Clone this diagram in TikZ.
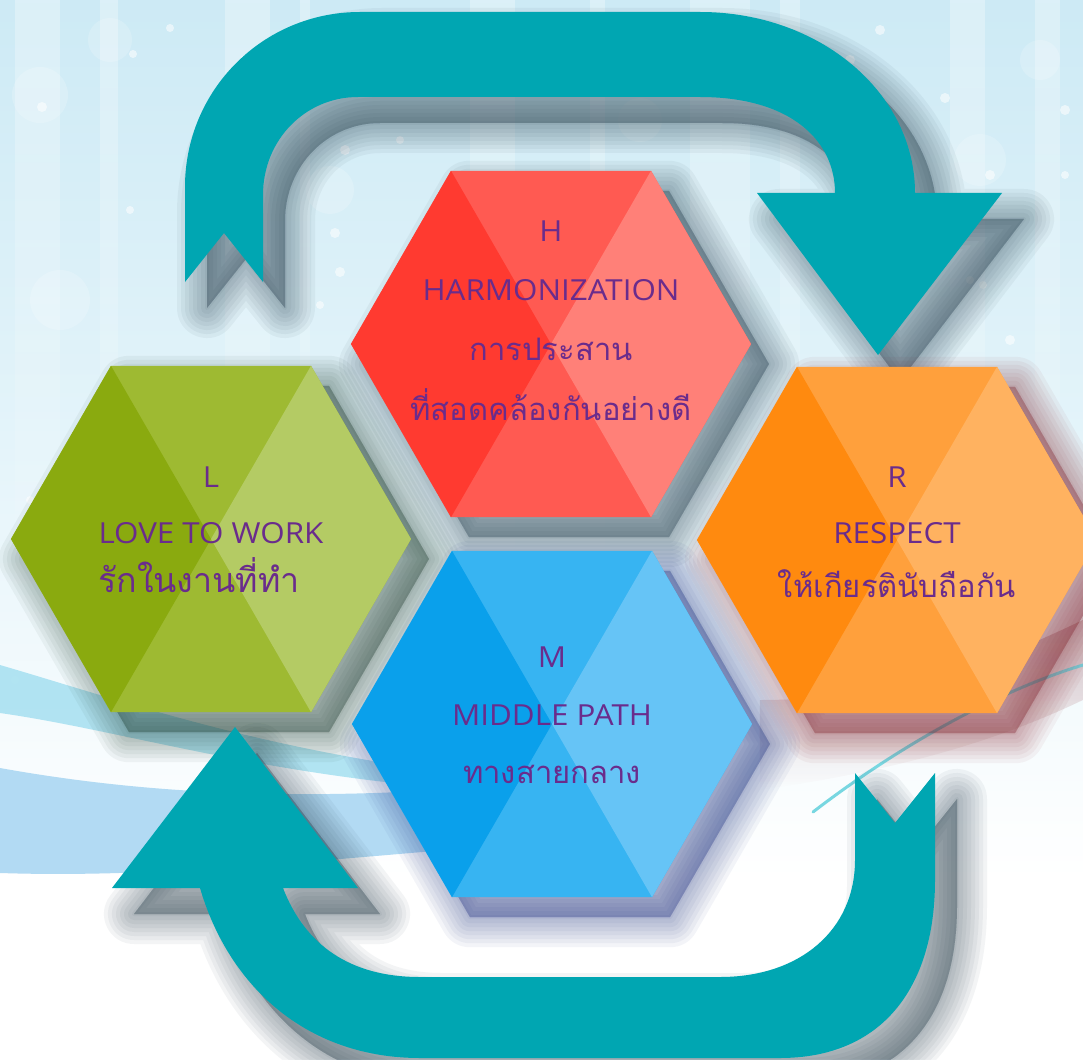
\documentclass[tikz,border=0pt]{standalone}
\usepackage{fontspec}
\setmainfont[FakeStretch=1.08]{Open Sans}
\newfontfamily\thaifont[Script=Thai]{Loma}
\usetikzlibrary{fadings}
\definecolor{bgtop}{RGB}{205,234,245}
\definecolor{bgmid}{RGB}{228,244,250}
\definecolor{teal}{RGB}{0,166,178}
\definecolor{txtc}{RGB}{106,44,140}
\definecolor{hL}{RGB}{255,58,48}\definecolor{hM}{RGB}{255,90,82}\definecolor{hR}{RGB}{255,128,120}
\definecolor{lL}{RGB}{138,170,15}\definecolor{lM}{RGB}{158,186,50}\definecolor{lR}{RGB}{180,203,100}
\definecolor{rL}{RGB}{255,138,15}\definecolor{rM}{RGB}{255,160,60}\definecolor{rR}{RGB}{255,178,96}
\definecolor{mL}{RGB}{10,160,235}\definecolor{mM}{RGB}{55,180,242}\definecolor{mR}{RGB}{102,196,246}
\definecolor{shA}{RGB}{30,55,70}
\definecolor{shL}{RGB}{25,55,40}
\definecolor{shR}{RGB}{130,30,40}
\definecolor{shM}{RGB}{30,50,130}
\definecolor{swblue}{RGB}{178,218,243}
\definecolor{swcyan}{RGB}{160,222,240}
\definecolor{swline}{RGB}{120,215,225}
\tikzset{
  hexpath/.style={insert path={(-200,0) -- (-100,-173.2) -- (100,-173.2) -- (200,0) -- (100,173.2) -- (-100,173.2) -- cycle}},
  toparrow/.style={insert path={(185,282) -- (185,187) .. controls (185,90) and (263,12) .. (360,12) -- (700,12) .. controls (820,12) and (915,93) .. (915,193) -- (1002,193) -- (878,355) -- (757,193) -- (835,193) .. controls (835,140) and (790,97) .. (700,97) -- (358,97) .. controls (305,97) and (263,140) .. (263,195) -- (263,282) -- (224,233) -- cycle}},
  botarrow/.style={insert path={(855,773) -- (895,823) -- (935,773) -- (935,880) .. controls (935,990) and (880,1058) .. (780,1058) -- (420,1058) .. controls (310,1058) and (230,990) .. (200,888) -- (112,888) -- (235,727) -- (358,888) -- (283,888) .. controls (305,945) and (350,977) .. (420,977) -- (720,977) .. controls (800,977) and (855,930) .. (855,860) -- cycle}},
  lat/.style={text=txtc, font=\fontsize{29}{32}\selectfont, anchor=base, inner sep=0pt},
  tha/.style={text=txtc, font=\thaifont\fontsize{31}{34}\selectfont, anchor=base, inner sep=0pt},
  stripe/.style={white, opacity=0.3, path fading=south},
  bokeh/.style={white, opacity=0.55},
  bigbokeh/.style={white, opacity=0.18},
  softsh/.style={fill=#1, draw=#1, line join=round, opacity=0.05},
}
\newcommand\hexshadow[3]{%
  \begin{scope}[shift={({#1+18},{#2+20})}]
    \foreach \w in {60,52,44,36,28,20,12,4}{%
      \path[softsh=#3, line width=\w pt, hexpath];}
  \end{scope}}
\newcommand\hexbox[6]{%
  \begin{scope}[shift={(#2,#3)}]
    \coordinate (#1) at (0,0);
    \fill[#5, hexpath];
    \fill[#4] (-200,0) -- (-100,-173.2) -- (0,0) -- (-100,173.2) -- cycle;
    \fill[#6] (100,-173.2) -- (200,0) -- (100,173.2) -- (0,0) -- cycle;
  \end{scope}}
\begin{document}
\begin{tikzpicture}[x=1pt,y=-1pt]
\useasboundingbox (0,0) rectangle (1083,1059);
% background
\fill[white] (0,0) rectangle (1083,1059);
\shade[top color=bgtop, bottom color=white, middle color=bgmid] (0,0) rectangle (1083,880);
\foreach \a/\b in {15/60,100/118,225/270,300/310,470/515,590/605,690/750,780/800,950/985,1035/1060}{
  \fill[stripe] (\a,0) rectangle (\b,720);}
% bokeh
\foreach \x/\y/\r in {40/95/28,110/40/22,60/300/30,170/430/26,330/190/24,520/60/30,640/120/22,980/160/26,1040/60/20,300/560/22,110/640/20,1000/420/24}{
  \fill[bigbokeh] (\x,\y) circle (\r);}
\foreach \x/\y/\r in {170/28/4,133/54/4,245/60/5,42/107/5,130/210/4,345/150/5,335/233/5,340/272/5,320/305/4,850/60/5,880/30/5,945/98/5,990/175/5,983/285/4,1065/110/5,1065/175/4,1010/340/5,970/280/4,660/40/4,700/75/4,30/500/4,70/570/5,15/680/4,400/140/4,400/325/5}{
  \fill[bokeh] (\x,\y) circle (\r);}
% swooshes
\fill[swcyan, opacity=0.8] (0,665) .. controls (120,700) and (260,750) .. (470,775) -- (470,790) .. controls (260,775) and (120,730) .. (0,713) -- cycle;
\fill[swblue] (0,768) .. controls (150,795) and (300,800) .. (470,788) -- (470,848) .. controls (300,862) and (150,878) .. (0,873) -- cycle;
\fill[shR, opacity=0.25, path fading=south] (760,700) .. controls (900,700) and (1000,660) .. (1083,620) -- (1083,700) .. controls (1000,740) and (900,770) .. (760,790) -- cycle;
\draw[swline, line width=3pt, line cap=round] (813,812) .. controls (900,745) and (1000,690) .. (1083,665);
% shadows
\begin{scope}[shift={(22,26)}]
  \foreach \w in {60,52,44,36,28,20,12,4}{%
    \path[softsh=shA, line width=\w pt, toparrow];
    \path[softsh=shA, line width=\w pt, botarrow];}
\end{scope}
\hexshadow{551}{344}{shA}
\hexshadow{211}{539}{shL}
\hexshadow{897}{540}{shR}
\hexshadow{552}{724}{shM}
% arrows
\fill[teal, toparrow];
\fill[teal, botarrow];
% hexagons
\hexbox{hexH}{551}{344}{hL}{hM}{hR}
\hexbox{hexL}{211}{539}{lL}{lM}{lR}
\hexbox{hexR}{897}{540}{rL}{rM}{rR}
\hexbox{hexM}{552}{724}{mL}{mM}{mR}
% texts
\node[lat] (h1) at (551,242) {H};
\node[lat] (h2) at (551,300) {HARMONIZATION};
\node[tha] (h3) at (551,360) {การประสาน};
\node[tha] (h4) at (551,420) {ที่สอดคล้องกันอย่างดี};
\node[lat] (l1) at (211,487) {L};
\node[lat] (l2) at (211,543) {LOVE TO WORK};
\node[tha, font=\thaifont\fontsize{34}{36}\selectfont] (l3) at (199,592) {รักในงานที่ทำ};
\node[lat] (r1) at (897,487) {R};
\node[lat] (r2) at (897,543) {RESPECT};
\node[tha] (r3) at (897,597) {ให้เกียรตินับถือกัน};
\node[lat] (m1) at (552,667) {M};
\node[lat] (m2) at (552,725) {MIDDLE PATH};
\node[tha] (m3) at (552,783) {ทางสายกลาง};
\end{tikzpicture}
\end{document}
